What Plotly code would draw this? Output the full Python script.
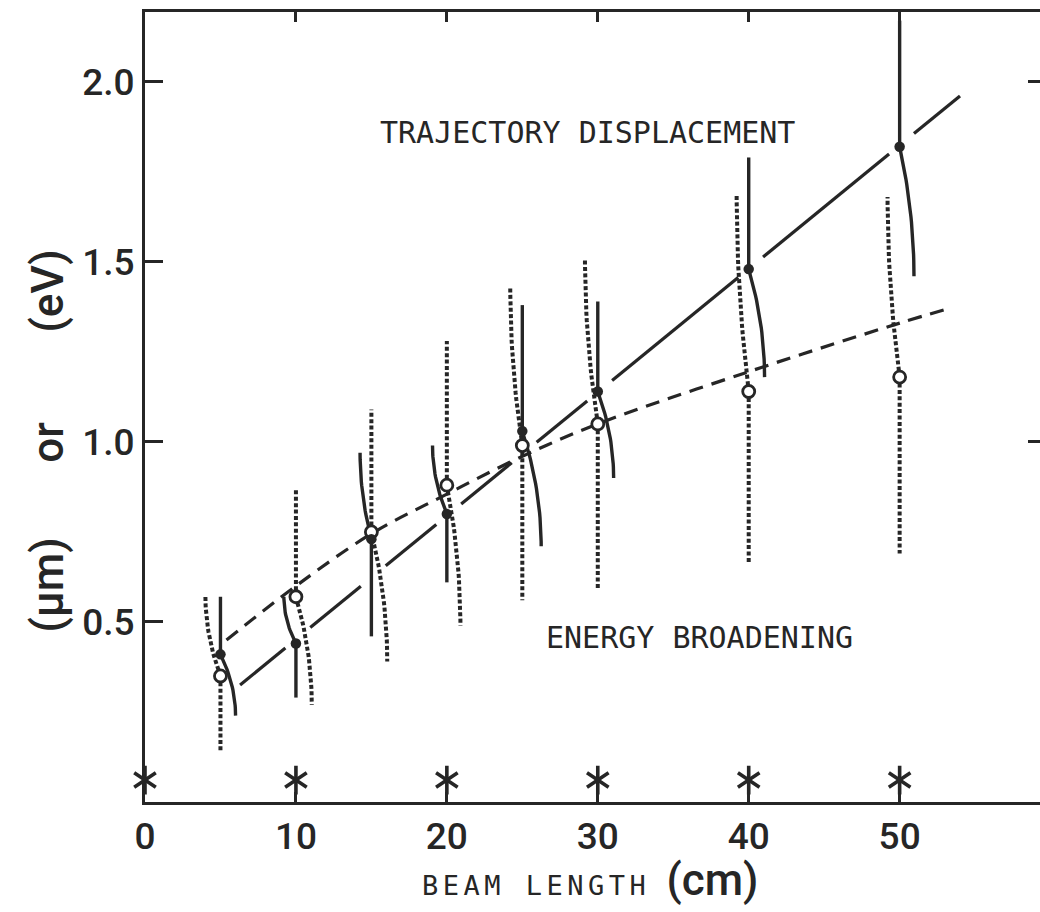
import numpy as np
import plotly.graph_objects as go

# ---------------- data ----------------
beam_length = [5, 10, 15, 20, 25, 30, 40, 50]

# trajectory displacement (filled dots, solid bars)
traj_value = [0.41, 0.44, 0.73, 0.80, 1.03, 1.14, 1.48, 1.82]
traj_upper = [0.57, 0.57, 0.97, 0.99, 1.38, 1.39, 1.79, 2.17]
traj_lower = [0.24, 0.29, 0.46, 0.61, 0.71, 0.90, 1.18, 1.46]
traj_curved_side = ["lower", "upper", "upper", "upper", "lower", "lower", "lower", "lower"]
traj_curve_shift = [1.0, -0.8, -0.75, -0.95, 1.25, 1.05, 1.05, 0.95]

# energy broadening (open circles, dotted bars)
energy_value = [0.35, 0.57, 0.75, 0.88, 0.99, 1.05, 1.14, 1.18]
energy_upper = [0.575, 0.87, 1.09, 1.28, 1.43, 1.51, 1.69, 1.68]
energy_lower = [0.14, 0.27, 0.39, 0.49, 0.56, 0.59, 0.66, 0.69]
energy_curved_side = ["upper", "lower", "lower", "lower", "upper", "upper", "upper", "upper"]
energy_curve_shift = [-1.0, 1.05, 1.05, 0.9, -0.8, -0.85, -0.8, -0.8]

# fitted lines
traj_fit_x = [6.3, 54.0]
traj_fit_y = [0.325, 1.961]
energy_fit_x = [5.4, 10, 15, 20, 25, 30, 40, 50, 53.2]
energy_fit_y = [0.45, 0.60, 0.745, 0.855, 0.96, 1.05, 1.195, 1.33, 1.37]

# asterisk marks along the axis
star_x = [0, 10, 20, 30, 40, 50]
star_y = [0.061, 0.061, 0.061, 0.061, 0.061, 0.061]

x_tick_vals = [0, 10, 20, 30, 40, 50]
x_tick_text = ["0", "10", "20", "30", "40", "50"]
y_tick_vals = [0.5, 1.0, 1.5, 2.0]
y_tick_text = ["0.5", "1.0", "1.5", "2.0"]
right_tick_vals = [1.0, 2.0]

# ---------------- styling ----------------
INK = "#262626"
SANS = "Roboto, Liberation Sans, Arial, sans-serif"
MONO = "DejaVu Sans Mono, monospace"
X_RANGE = [0, 59.3]
Y_RANGE = [0, 2.194]


def bar_paths(xs, vals, ups, lows, sides, shifts):
    """One straight branch and one curved branch per point."""
    t = np.linspace(0, 1, 25)
    px, py = [], []
    for x, v, u, l, s, sh in zip(xs, vals, ups, lows, sides, shifts):
        straight_end = l if s == "upper" else u
        curve_end = u if s == "upper" else l
        px += [x, x, None]
        py += [v, straight_end, None]
        px += list(x + sh * (1 - (1 - t) ** 2)) + [None]
        py += list(v + (curve_end - v) * t) + [None]
    return px, py


fig = go.Figure()

# trajectory fit: long dashes broken at each measured point
gap_after, gap_before = 0.95, 0.7
seg_start = [traj_fit_x[0]] + [b + gap_after for b in beam_length[1:]]
seg_end = [b - gap_before for b in beam_length[1:]] + [traj_fit_x[1]]
tx, ty = [], []
for a, b in zip(seg_start, seg_end):
    tx += [a, b, None]
    ty += [float(np.interp(a, traj_fit_x, traj_fit_y)),
           float(np.interp(b, traj_fit_x, traj_fit_y)), None]
fig.add_trace(go.Scatter(x=tx, y=ty, mode="lines",
                         line=dict(color=INK, width=3.2), hoverinfo="skip"))

# energy fit: short dashes
fig.add_trace(go.Scatter(x=energy_fit_x, y=energy_fit_y, mode="lines",
                         line=dict(color=INK, width=3.2, dash="14px,9px", shape="spline"),
                         hoverinfo="skip"))

# bars
ex, ey = bar_paths(beam_length, energy_value, energy_upper, energy_lower,
                   energy_curved_side, energy_curve_shift)
fig.add_trace(go.Scatter(x=ex, y=ey, mode="lines",
                         line=dict(color=INK, width=4, dash="4px,2.4px"),
                         hoverinfo="skip"))
sx, sy = bar_paths(beam_length, traj_value, traj_upper, traj_lower,
                   traj_curved_side, traj_curve_shift)
fig.add_trace(go.Scatter(x=sx, y=sy, mode="lines",
                         line=dict(color=INK, width=3.4), hoverinfo="skip"))

# points
fig.add_trace(go.Scatter(x=beam_length, y=energy_value, mode="markers",
                         marker=dict(symbol="circle", size=12, color="white",
                                     line=dict(color=INK, width=2.8))))
fig.add_trace(go.Scatter(x=beam_length, y=traj_value, mode="markers",
                         marker=dict(symbol="circle", size=10.5, color=INK,
                                     line=dict(color=INK, width=0))))

# asterisks (two Y symbols overlaid -> six arms)
for sym in ["y-up-open", "y-down-open"]:
    fig.add_trace(go.Scatter(x=star_x, y=star_y, mode="markers", cliponaxis=False,
                             marker=dict(symbol=sym, size=18, color=INK,
                                         line=dict(color=INK, width=3.6))))

# dummy trace for right-hand tick axis
fig.add_trace(go.Scatter(x=[None], y=[None], yaxis="y2", mode="markers"))

tick_font = dict(family=SANS, size=37, color=INK, weight=500)

fig.update_layout(
    width=1040, height=912,
    margin=dict(l=145, r=0, t=12, b=110),
    plot_bgcolor="white", paper_bgcolor="white",
    showlegend=False,
    font=dict(family=SANS, color=INK),
    xaxis=dict(range=X_RANGE, tickvals=x_tick_vals, ticktext=x_tick_text,
               ticks="inside", ticklen=10, tickwidth=3, tickcolor=INK,
               showline=True, linewidth=3, linecolor=INK, mirror="ticks",
               showgrid=False, zeroline=False, tickfont=tick_font),
    yaxis=dict(range=Y_RANGE, tickvals=y_tick_vals, ticktext=y_tick_text,
               ticks="inside", ticklen=18, tickwidth=3, tickcolor=INK,
               showline=True, linewidth=3, linecolor=INK, mirror=False,
               showgrid=False, zeroline=False, tickfont=tick_font),
    yaxis2=dict(range=Y_RANGE, overlaying="y", side="right", anchor="x",
                tickvals=right_tick_vals, ticks="inside", ticklen=12, tickwidth=3,
                tickcolor=INK, showticklabels=False, showline=False,
                showgrid=False, zeroline=False),
)

label_font = dict(family=SANS, size=44, color=INK, weight=500)
annotations = [
    dict(x=29.3, y=1.858, xref="x", yref="y", text="TRAJECTORY DISPLACEMENT",
         showarrow=False, font=dict(family=MONO, size=30, color=INK)),
    dict(x=36.75, y=0.456, xref="x", yref="y", text="ENERGY BROADENING",
         showarrow=False, font=dict(family=MONO, size=30, color=INK)),
    dict(x=0.498, y=-0.0987, xref="paper", yref="paper", xanchor="center", yanchor="middle",
         text=("<span style=\"letter-spacing:4.5px\">BEAM LENGTH</span> "
               "<span style=\"font-family:Roboto;font-size:44px;font-weight:500\">(cm)</span>"),
         showarrow=False, font=dict(family=MONO, size=27, color=INK)),
    dict(x=-0.14, y=1.42, xref="paper", yref="y", text="(eV)", textangle=-90,
         showarrow=False, font=label_font),
    dict(x=-0.14, y=1.0, xref="paper", yref="y", text="or", textangle=-90,
         showarrow=False, font=label_font),
    dict(x=-0.14, y=0.603, xref="paper", yref="y", text="(µm)", textangle=-90,
         showarrow=False, font=label_font),
]
fig.update_layout(annotations=annotations)

fig.write_html("out.html")
